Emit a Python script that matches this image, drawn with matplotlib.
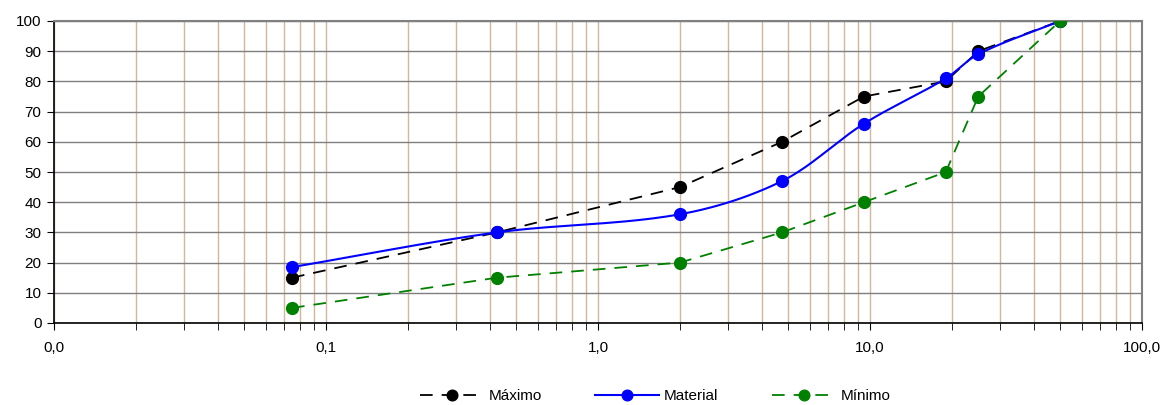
import numpy as np
import matplotlib
matplotlib.use("Agg")
import matplotlib.pyplot as plt
from matplotlib.ticker import FixedLocator, FixedFormatter, LogLocator, NullFormatter

plt.rcParams['font.family'] = ['Liberation Sans', 'DejaVu Sans']

sizes = [0.075, 0.425, 2.0, 4.75, 9.5, 19.0, 25.0, 50.0]
maximo = [15, 30, 45, 60, 75, 80, 90, 100]
material = [18.5, 30, 36, 47, 66, 81, 89, 100]
minimo = [5, 15, 20, 30, 40, 50, 75, 100]
x_ticks = [0.01, 0.1, 1, 10, 100]
x_labels = ["0,0", "0,1", "1,0", "10,0", "100,0"]
y_ticks = list(range(0, 101, 10))


def smooth(xs, ys, n=40, xscale=272.0, yscale=3.02):
    # Bezier smoothing in display-proportional space; tangent length scaled by segment length
    P = np.column_stack([np.log10(xs) * xscale, np.asarray(ys, float) * yscale])
    m = len(P)
    T = np.zeros_like(P)
    for i in range(m):
        a = P[max(i - 1, 0)]
        b = P[min(i + 1, m - 1)]
        d = b - a
        T[i] = d / np.linalg.norm(d)
    out = []
    t = np.linspace(0, 1, n)[:, None]
    for i in range(m - 1):
        p1, p2 = P[i], P[i + 1]
        L = np.linalg.norm(p2 - p1)
        c1 = p1 + T[i] * L * 0.33
        c2 = p2 - T[i + 1] * L * 0.33
        pts = ((1 - t) ** 3 * p1 + 3 * (1 - t) ** 2 * t * c1
               + 3 * (1 - t) * t ** 2 * c2 + t ** 3 * p2)
        out.append(pts)
    out = np.vstack(out)
    return 10 ** (out[:, 0] / xscale), out[:, 1] / yscale


fig = plt.figure(figsize=(11.7, 4.05), dpi=100)
ax = fig.add_axes([54 / 1170, 1 - 323 / 405, (1142 - 54) / 1170, (323 - 21) / 405])
ax.set_xscale('log')
ax.set_xlim(0.01, 100)
ax.set_ylim(0, 100)

ax.xaxis.set_major_locator(FixedLocator(x_ticks))
ax.xaxis.set_major_formatter(FixedFormatter(x_labels))
ax.xaxis.set_minor_locator(LogLocator(base=10, subs=np.arange(2, 10)))
ax.xaxis.set_minor_formatter(NullFormatter())
ax.set_yticks(y_ticks)

ax.grid(True, which='major', axis='y', color='#7f7f7f', lw=1.0)
ax.grid(True, which='both', axis='x', color='#d2b69e', lw=1.0)
ax.set_axisbelow(True)

ax.tick_params(axis='both', which='both', direction='out', labelsize=11, colors='black')
ax.tick_params(axis='x', which='major', length=5, pad=8)
ax.tick_params(axis='x', which='minor', length=5)
ax.tick_params(axis='y', length=5, pad=4)
ax.tick_params(top=False, right=False)

for s in ('left', 'bottom'):
    ax.spines[s].set_color('black'); ax.spines[s].set_linewidth(1.2)
for s in ('top', 'right'):
    ax.spines[s].set_color('#808080'); ax.spines[s].set_linewidth(1.5)

ms = 8.5
ax.plot(sizes, maximo, color='black', lw=1.3, dashes=(7, 5), zorder=3)
ax.plot(sizes, maximo, 'o', color='black', ms=ms, zorder=4)
sx, sy = smooth(sizes, material)
ax.plot(sx, sy, color='#0000ff', lw=1.5, zorder=3)
ax.plot(sizes, material, 'o', color='#0000ff', ms=ms, zorder=4)
ax.plot(sizes, minimo, color='#008000', lw=1.3, dashes=(7, 5), zorder=3)
ax.plot(sizes, minimo, 'o', color='#008000', ms=ms, zorder=4)

h1, = ax.plot([], [], color='black', lw=1.3, dashes=(7, 5), marker='o', ms=ms * 0.9)
h2, = ax.plot([], [], color='#0000ff', lw=1.5, marker='o', ms=ms * 0.9)
h3, = ax.plot([], [], color='#008000', lw=1.3, dashes=(7, 5), marker='o', ms=ms * 0.9)
fig.legend([h1, h2, h3], ['Máximo', 'Material', 'Mínimo'], loc='center',
           bbox_to_anchor=(0.56, 1 - 396 / 405), ncol=3, frameon=False,
           fontsize=11, handlelength=4.2, numpoints=1, columnspacing=3.5, handletextpad=0.3)

fig.savefig('out.png', dpi=100)
